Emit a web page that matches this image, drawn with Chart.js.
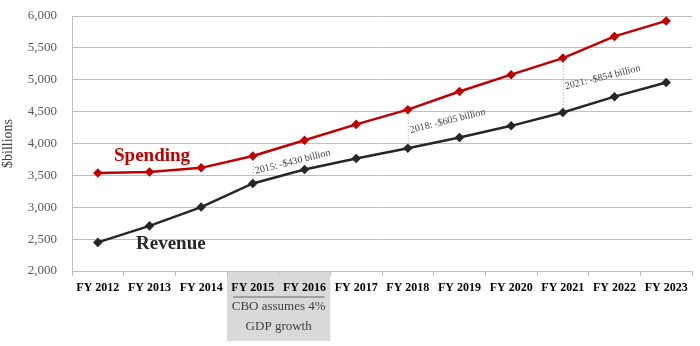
<!DOCTYPE html>
<html>
<head>
<meta charset="utf-8">
<script src="https://cdn.jsdelivr.net/npm/chart.js@4.4.1/dist/chart.umd.min.js"></script>
<style>
  html, body { margin: 0; padding: 0; background: #fff; }
  #wrap { width: 700px; height: 346px; }
</style>
</head>
<body>
<div id="wrap"><canvas id="budgetChart" width="700" height="346"></canvas></div>
<script>
// DATA ##################################################################
var years = ['FY 2012', 'FY 2013', 'FY 2014', 'FY 2015', 'FY 2016', 'FY 2017',
             'FY 2018', 'FY 2019', 'FY 2020', 'FY 2021', 'FY 2022', 'FY 2023'];
var spending = [3537, 3553, 3618, 3803, 4050, 4300, 4531, 4816, 5080, 5340, 5680, 5923];
var revenue  = [2449, 2708, 3003, 3373, 3591, 3765, 3926, 4094, 4277, 4486, 4735, 4956];
var deficitYears = ['FY 2015', 'FY 2018', 'FY 2021'];
var shadedYears = ['FY 2015', 'FY 2016'];
var shadedNote = ['CBO assumes 4%', 'GDP growth'];
var yTicks = { min: 2000, max: 6000, step: 500 };
// DATA ##################################################################

var SERIF = '"Liberation Serif", "DejaVu Serif", serif';

// grey box under FY 2015 - FY 2016
var shadePlugin = {
    id: 'shade',
    beforeDraw: function(chart) {
        var ctx = chart.ctx, x = chart.scales.x, area = chart.chartArea;
        var i0 = years.indexOf(shadedYears[0]);
        var i1 = years.indexOf(shadedYears[shadedYears.length - 1]);
        var half = (x.getPixelForValue(1) - x.getPixelForValue(0)) / 2;
        var left = x.getPixelForValue(i0) - half;
        var right = x.getPixelForValue(i1) + half;
        ctx.save();
        ctx.fillStyle = '#d9d9d9';
        ctx.fillRect(left, area.bottom + 1, right - left, 69);
        ctx.restore();
    },
    afterDraw: function(chart) {
        var ctx = chart.ctx, x = chart.scales.x, area = chart.chartArea;
        var i0 = years.indexOf(shadedYears[0]);
        var i1 = years.indexOf(shadedYears[shadedYears.length - 1]);
        var half = (x.getPixelForValue(1) - x.getPixelForValue(0)) / 2;
        var left = x.getPixelForValue(i0) - half;
        var right = x.getPixelForValue(i1) + half;
        var mid = (left + right) / 2;
        ctx.save();
        ctx.strokeStyle = '#8c8c8c';
        ctx.lineWidth = 1.5;
        ctx.beginPath();
        ctx.moveTo(left + 6, area.bottom + 26);
        ctx.lineTo(right - 6, area.bottom + 26);
        ctx.stroke();
        ctx.fillStyle = '#404040';
        ctx.font = '13px ' + SERIF;
        ctx.textAlign = 'center';
        ctx.textBaseline = 'middle';
        ctx.fillText(shadedNote[0], mid, area.bottom + 36);
        ctx.fillText(shadedNote[1], mid, area.bottom + 56);
        ctx.restore();
    }
};

// deficit gaps + series labels
var notesPlugin = {
    id: 'notes',
    afterDatasetsDraw: function(chart) {
        var ctx = chart.ctx, x = chart.scales.x, y = chart.scales.y, area = chart.chartArea;
        ctx.save();
        deficitYears.forEach(function(yr) {
            var i = years.indexOf(yr);
            var px = x.getPixelForValue(i);
            var top = y.getPixelForValue(spending[i]);
            var bottom = y.getPixelForValue(revenue[i]);
            ctx.strokeStyle = '#a6a6a6';
            ctx.lineWidth = 1;
            ctx.setLineDash([1, 2]);
            ctx.beginPath();
            ctx.moveTo(px + 0.5, top + 4);
            ctx.lineTo(px + 0.5, bottom - 4);
            ctx.stroke();
            ctx.setLineDash([]);

            var label = yr.replace('FY ', '') + ': -$' + (spending[i] - revenue[i]) + ' billion';
            ctx.save();
            ctx.translate(px + 3, (top + bottom) / 2 + 4);
            ctx.rotate(-14 * Math.PI / 180);
            ctx.fillStyle = '#404040';
            ctx.font = '10px ' + SERIF;
            ctx.textAlign = 'left';
            ctx.textBaseline = 'alphabetic';
            ctx.fillText(label, 0, 0);
            ctx.restore();
        });

        ctx.font = 'bold 19px ' + SERIF;
        ctx.textAlign = 'left';
        ctx.textBaseline = 'alphabetic';
        ctx.fillStyle = '#c00000';
        ctx.fillText('Spending', area.left + 42, 161);
        ctx.fillStyle = '#262626';
        ctx.fillText('Revenue', area.left + 64, 249);
        ctx.restore();
    }
};

document.addEventListener('DOMContentLoaded', function() {
    var ctx = document.getElementById('budgetChart').getContext('2d');

    new Chart(ctx, {
        type: 'line',
        data: {
            labels: years,
            datasets: [{
                label: 'Spending',
                data: spending,
                borderColor: '#c00000',
                backgroundColor: '#c00000',
                borderWidth: 2.5,
                pointStyle: 'rectRot',
                pointRadius: 3,
                tension: 0
            }, {
                label: 'Revenue',
                data: revenue,
                borderColor: '#262626',
                backgroundColor: '#262626',
                borderWidth: 2.5,
                pointStyle: 'rectRot',
                pointRadius: 3,
                tension: 0
            }]
        },
        options: {
            responsive: false,
            animation: false,
            layout: { padding: { top: 16, right: 8, left: 0, bottom: 0 } },
            plugins: {
                legend: { display: false },
                tooltip: { enabled: false }
            },
            scales: {
                x: {
                    offset: true,
                    grid: {
                        offset: true,
                        drawOnChartArea: false,
                        drawTicks: true,
                        tickLength: 5,
                        color: '#bfbfbf'
                    },
                    border: { display: true, color: '#bfbfbf' },
                    ticks: {
                        color: '#000',
                        font: { family: SERIF, size: 12, weight: 'bold' },
                        padding: 5,
                        maxRotation: 0,
                        autoSkip: false
                    },
                    afterFit: function(scale) { scale.height = 75; }
                },
                y: {
                    min: yTicks.min,
                    max: yTicks.max,
                    grid: { color: '#bfbfbf', drawTicks: false },
                    border: { display: true, color: '#bfbfbf' },
                    ticks: {
                        stepSize: yTicks.step,
                        color: '#595959',
                        padding: 15,
                        font: { family: SERIF, size: 13 },
                        callback: function(v) { return v.toLocaleString('en-US'); }
                    },
                    title: {
                        display: true,
                        text: '$billions',
                        color: '#404040',
                        font: { family: SERIF, size: 14 },
                        padding: 0
                    },
                    afterFit: function(scale) {
                        scale.width = 72;
                        scale.paddingTop = 0;
                        scale.paddingBottom = 0;
                    }
                }
            }
        },
        plugins: [shadePlugin, notesPlugin]
    });
});
</script>
</body>
</html>
